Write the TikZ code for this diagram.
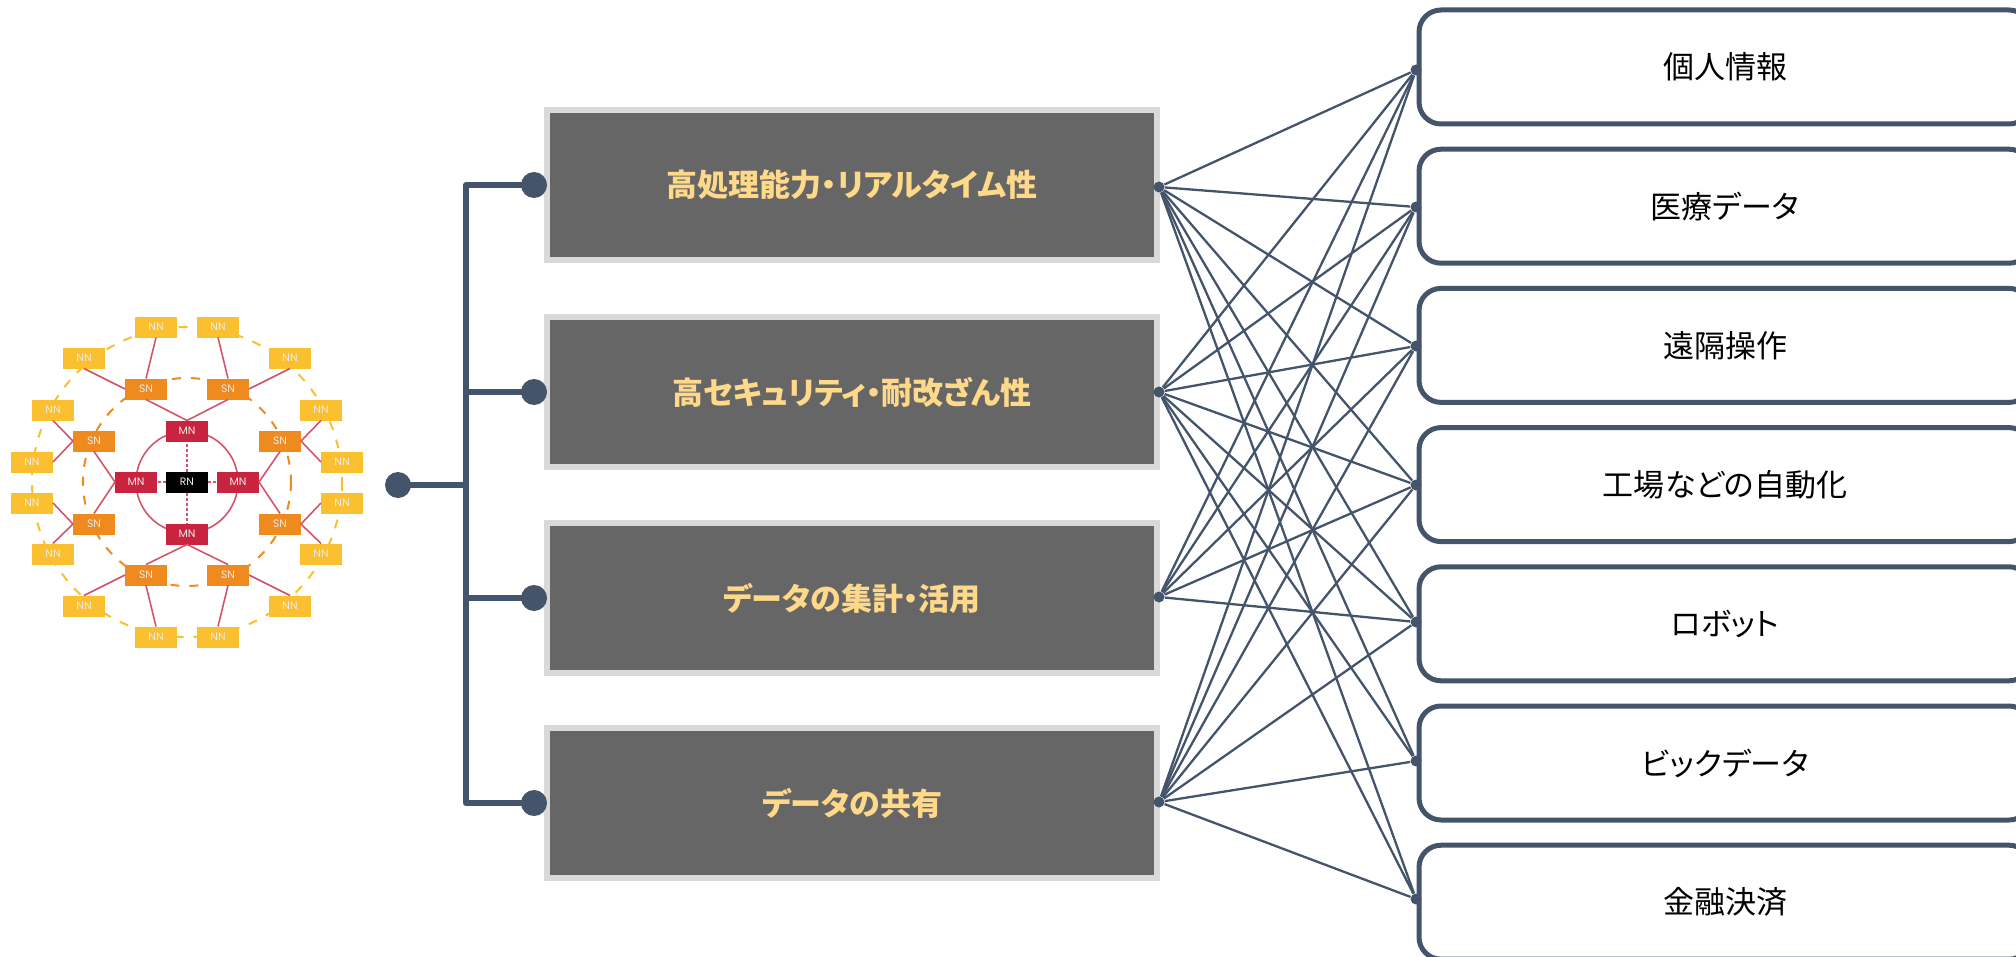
\documentclass[tikz,border=0pt]{standalone}
\usepackage{fontspec}
\usepackage{xcolor}
\setmainfont[RawFeature=+palt]{Noto Sans CJK JP}
\newfontfamily\netfont{Poppins}
\definecolor{slateline}{HTML}{44546A}
\definecolor{boxgray}{HTML}{666666}
\definecolor{boxedge}{HTML}{D9D9D9}
\definecolor{labelyellow}{HTML}{FFD98A}
\definecolor{nnyellow}{HTML}{FBC02F}
\definecolor{snorange}{HTML}{EF8A1E}
\definecolor{mnred}{HTML}{C9243F}
\definecolor{linkred}{HTML}{D2566A}
\tikzset{
  feature/.style={draw=boxedge, line width=3pt, fill=boxgray, text=labelyellow, font=\fontsize{15.5}{18}\selectfont\bfseries, minimum width=305pt, minimum height=75pt},
  usecase/.style={draw=slateline, line width=2.5pt, rounded corners=11pt, fill=white, text=black, font=\fontsize{15.5}{18}\selectfont, minimum width=306pt, minimum height=57pt},
  bigdot/.style={circle, fill=slateline, inner sep=0pt, minimum size=13pt},
  hub/.style={circle, fill=slateline, inner sep=0pt, minimum size=5.5pt},
  trunk/.style={draw=slateline, line width=3pt, line join=round},
  wire/.style={draw=slateline, line width=1.15pt},
  netbox/.style={inner sep=0pt, outer sep=0pt, minimum width=21pt, minimum height=10.5pt, text=white!92!black, font=\netfont\fontsize{5.4}{6}\selectfont},
  nn/.style={netbox, fill=nnyellow},
  sn/.style={netbox, fill=snorange},
  mn/.style={netbox, fill=mnred},
  rn/.style={netbox, fill=black},
  link/.style={draw=linkred, line width=0.8pt},
  linkdash/.style={link, dash pattern=on 1.5pt off 1pt},
  ringdash/.style={line width=1pt, dash pattern=on 4.5pt off 5pt}
}
\begin{document}
\begin{tikzpicture}[x=0.5pt, y=-0.5pt]
\useasboundingbox (0,0) rectangle (2016,957);
% rings behind the network
\coordinate (Centre) at (187,482);
\draw[link] (Centre) circle[radius=51];
\draw[ringdash, draw=snorange] (Centre) circle[radius=104];
\draw[ringdash, draw=nnyellow] (Centre) circle[radius=155];
% network nodes
\node[rn] (RN) at (Centre) {RN};
\node[mn] (MNt) at (187,431) {MN};
\node[mn] (MNl) at (136,482) {MN};
\node[mn] (MNr) at (238,482) {MN};
\node[mn] (MNb) at (187,534) {MN};
\node[sn] (SNa) at (146,389) {SN};
\node[sn] (SNb) at (228,389) {SN};
\node[sn] (SNc) at (94,441) {SN};
\node[sn] (SNd) at (280,441) {SN};
\node[sn] (SNe) at (94,524) {SN};
\node[sn] (SNf) at (280,524) {SN};
\node[sn] (SNg) at (146,575) {SN};
\node[sn] (SNh) at (228,575) {SN};
\node[nn] (NNa) at (156,327) {NN};
\node[nn] (NNb) at (218,327) {NN};
\node[nn] (NNc) at (84,358) {NN};
\node[nn] (NNd) at (290,358) {NN};
\node[nn] (NNe) at (53,410) {NN};
\node[nn] (NNf) at (321,410) {NN};
\node[nn] (NNg) at (32,462) {NN};
\node[nn] (NNh) at (342,462) {NN};
\node[nn] (NNi) at (32,503) {NN};
\node[nn] (NNj) at (342,503) {NN};
\node[nn] (NNk) at (53,554) {NN};
\node[nn] (NNl) at (321,554) {NN};
\node[nn] (NNm) at (84,606) {NN};
\node[nn] (NNn) at (290,606) {NN};
\node[nn] (NNo) at (156,637) {NN};
\node[nn] (NNp) at (218,637) {NN};
% network links
\draw[linkdash] (RN.north) -- (MNt.south);
\draw[linkdash] (RN.south) -- (MNb.north);
\draw[linkdash] (RN.west) -- (MNl.east);
\draw[linkdash] (RN.east) -- (MNr.west);
\draw[link] (MNt.north) -- (SNa.south);
\draw[link] (MNt.north) -- (SNb.south);
\draw[link] (MNl.west) -- (SNc.south);
\draw[link] (MNl.west) -- (SNe.north);
\draw[link] (MNr.east) -- (SNd.south);
\draw[link] (MNr.east) -- (SNf.north);
\draw[link] (MNb.south) -- (SNg.north);
\draw[link] (MNb.south) -- (SNh.north);
\draw[link] (SNa.north) -- (NNa.south);
\draw[link] (SNa.west) -- (NNc.south);
\draw[link] (SNb.north) -- (NNb.south);
\draw[link] (SNb.east) -- (NNd.south);
\draw[link] (SNc.west) -- (NNe.south);
\draw[link] (SNc.west) -- (NNg.east);
\draw[link] (SNd.east) -- (NNf.south);
\draw[link] (SNd.east) -- (NNh.west);
\draw[link] (SNe.west) -- (NNi.east);
\draw[link] (SNe.west) -- (NNk.north);
\draw[link] (SNf.east) -- (NNj.west);
\draw[link] (SNf.east) -- (NNl.north);
\draw[link] (SNg.west) -- (NNm.north);
\draw[link] (SNg.south) -- (NNo.north);
\draw[link] (SNh.east) -- (NNn.north);
\draw[link] (SNh.south) -- (NNp.north);
% feature boxes
\node[feature] (Speed) at (852,185) {高処理能力・リアルタイム性};
\node[feature, below of=Speed, node distance=103.5pt] (Secure) {高セキュリティ・耐改ざん性};
\node[feature, below of=Secure, node distance=103pt] (Stats) {データの集計・活用};
\node[feature, below of=Stats, node distance=102.5pt] (Share) {データの共有};
% use case boxes
\node[usecase] (Personal) at (1725,67) {個人情報};
\node[usecase, below of=Personal, node distance=69.6pt] (Medical) {医療データ};
\node[usecase, below of=Medical, node distance=69.6pt] (Remote) {遠隔操作};
\node[usecase, below of=Remote, node distance=69.6pt] (Factory) {工場などの自動化};
\node[usecase, below of=Factory, node distance=69.6pt] (Robot) {ロボット};
\node[usecase, below of=Robot, node distance=69.6pt] (BigData) {ビックデータ};
\node[usecase, below of=BigData, node distance=69.6pt] (Finance) {金融決済};
% tree on the left
\node[bigdot] (source) at (398,485) {};
\node[bigdot, left of=Speed, node distance=159pt] (speedin) {};
\node[bigdot, left of=Secure, node distance=159pt] (securein) {};
\node[bigdot, left of=Stats, node distance=159pt] (statsin) {};
\node[bigdot, left of=Share, node distance=159pt] (sharein) {};
\coordinate (TopBend) at (466,185);
\coordinate (Junction) at (466,485);
\coordinate (BottomBend) at (466,803);
\draw[trunk] (speedin.center) -- (TopBend) -- (BottomBend) -- (sharein.center);
\draw[trunk] (source.center) -- (Junction);
\draw[trunk] (securein.center) -- (securein.center -| Junction);
\draw[trunk] (statsin.center) -- (statsin.center -| Junction);
% hubs for the wires
\node[hub] (speed) at (1159,187) {};
\node[hub] (secure) at (1159,392) {};
\node[hub] (stats) at (1159,597) {};
\node[hub] (share) at (1159,802) {};
\node[hub] (personal) at (1416,70) {};
\node[hub] (medical) at (1416,207) {};
\node[hub] (remote) at (1416,346) {};
\node[hub] (factory) at (1416,485) {};
\node[hub] (robot) at (1416,622) {};
\node[hub] (bigdata) at (1416,761) {};
\node[hub] (finance) at (1416,899) {};
% wires
\draw[wire] (speed) -- (personal);
\draw[wire] (speed) -- (medical);
\draw[wire] (speed) -- (remote);
\draw[wire] (speed) -- (factory);
\draw[wire] (speed) -- (robot);
\draw[wire] (speed) -- (bigdata);
\draw[wire] (speed) -- (finance);
\draw[wire] (secure) -- (personal);
\draw[wire] (secure) -- (medical);
\draw[wire] (secure) -- (remote);
\draw[wire] (secure) -- (factory);
\draw[wire] (secure) -- (robot);
\draw[wire] (secure) -- (bigdata);
\draw[wire] (secure) -- (finance);
\draw[wire] (stats) -- (personal);
\draw[wire] (stats) -- (medical);
\draw[wire] (stats) -- (remote);
\draw[wire] (stats) -- (factory);
\draw[wire] (stats) -- (robot);
\draw[wire] (share) -- (personal);
\draw[wire] (share) -- (medical);
\draw[wire] (share) -- (remote);
\draw[wire] (share) -- (factory);
\draw[wire] (share) -- (robot);
\draw[wire] (share) -- (bigdata);
\draw[wire] (share) -- (finance);
\end{tikzpicture}
\end{document}
